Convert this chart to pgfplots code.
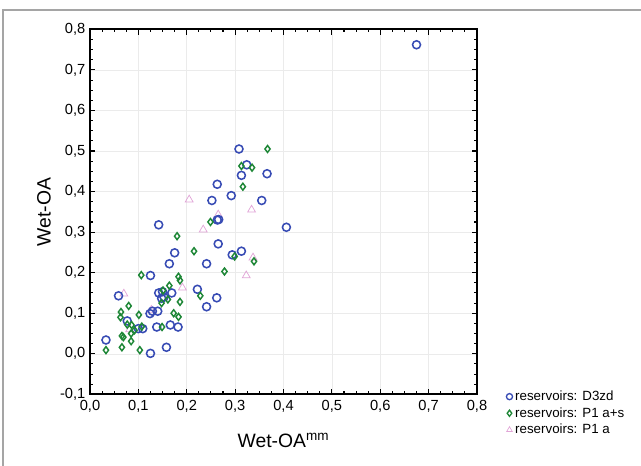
\documentclass[border=0pt]{standalone}
\usepackage{fontspec}
\setmainfont{Liberation Sans}
\usepackage{pgfplots}
\pgfplotsset{compat=1.18}

\definecolor{cblue}{RGB}{55,75,180}
\definecolor{cgreen}{RGB}{30,135,55}
\definecolor{cpink}{RGB}{225,165,215}
\definecolor{frame}{RGB}{165,165,165}

\begin{document}
\begin{tikzpicture}
\useasboundingbox (-67.5pt,-53.5pt) rectangle (413.25pt,295.75pt);
\draw[frame, line width=1.5pt] (-65.25pt,-53.5pt) -- (-65.25pt,288.25pt) -- (413.25pt,288.25pt);
\begin{axis}[
    at={(0,0)}, anchor=south west,
    scale only axis, width=290.25pt, height=273.75pt,
    xmin=0, xmax=0.8, ymin=-0.1, ymax=0.8,
    xtick={0,0.1,0.2,0.3,0.4,0.5,0.6,0.7,0.8},
    ytick={-0.1,0,0.1,0.2,0.3,0.4,0.5,0.6,0.7,0.8},
    xticklabels={{0,0},{0,1},{0,2},{0,3},{0,4},{0,5},{0,6},{0,7},{0,8}},
    yticklabels={{-0,1},{0,0},{0,1},{0,2},{0,3},{0,4},{0,5},{0,6},{0,7},{0,8}},
    minor tick num=3,
    tick align=inside,
    major tick length=4pt, minor tick length=2.2pt,
    tick style={black, line width=0.8pt},
    axis line style={line width=1.3pt},
    grid=major, grid style={black!8, line width=0.4pt},
    tick label style={font=\fontsize{11}{12}\selectfont},
    xticklabel style={yshift=-1pt},
    xlabel={Wet-OA\textsuperscript{mm}},
    ylabel={Wet-OA},
    label style={font=\fontsize{14.5}{16}\selectfont},
    xlabel style={yshift=-9pt},
    ylabel style={yshift=0pt},
    legend style={draw=none, fill=none, at={(1.065,0.025)}, anchor=north west,
        font=\fontsize{10}{11}\selectfont, row sep=-0.3pt,
        legend cell align=left},
    legend image code/.code={\draw[#1] plot coordinates {(0cm,0cm)};},
]
\addlegendimage{only marks, mark=o, mark size=2.3pt, draw=cblue, line width=1pt}
\addlegendentry{reservoirs: D3zd}
\addlegendimage{only marks, mark=diamond, mark size=2.3pt, draw=cgreen, line width=1pt}
\addlegendentry{reservoirs: P1 a+s}
\addlegendimage{only marks, mark=triangle, mark size=2.4pt, draw=cpink, line width=0.5pt}
\addlegendentry{reservoirs: P1 a}

% P1 a
\addplot[forget plot, only marks, mark=triangle, mark size=3.4pt, draw=cpink, line width=0.55pt] coordinates {
(0.070,0.148) (0.082,0.060) (0.127,0.108) (0.191,0.163) (0.205,0.380)
(0.234,0.306) (0.265,0.343) (0.334,0.355) (0.323,0.193) (0.337,0.237)
};
% D3zd
\addplot[forget plot, only marks, mark=o, mark size=3pt, draw=cblue, line width=1.15pt] coordinates {
(0.033,0.034) (0.059,0.143) (0.077,0.081) (0.100,0.062) (0.109,0.062)
(0.125,0.001) (0.125,0.193) (0.124,0.099) (0.129,0.105) (0.140,0.105)
(0.138,0.066) (0.142,0.318) (0.142,0.150) (0.148,0.137) (0.153,0.140)
(0.150,0.153) (0.158,0.016) (0.164,0.222) (0.169,0.150) (0.166,0.071)
(0.175,0.249) (0.182,0.066) (0.222,0.159) (0.241,0.222) (0.241,0.116)
(0.262,0.138) (0.265,0.271) (0.263,0.330) (0.266,0.331) (0.252,0.378)
(0.263,0.418) (0.292,0.390) (0.294,0.244) (0.313,0.253) (0.308,0.505)
(0.324,0.466) (0.313,0.440) (0.366,0.444) (0.355,0.378) (0.406,0.312)
(0.675,0.762)
};
% P1 a+s
\addplot[forget plot, only marks, mark=diamond, mark size=2.6pt, draw=cgreen, line width=1.1pt] coordinates {
(0.033,0.009) (0.064,0.103) (0.063,0.090) (0.066,0.044) (0.069,0.041)
(0.066,0.016) (0.080,0.118) (0.077,0.072) (0.086,0.071) (0.085,0.050)
(0.085,0.031) (0.092,0.058) (0.101,0.096) (0.106,0.194) (0.103,0.009)
(0.107,0.067) (0.148,0.125) (0.151,0.156) (0.149,0.066) (0.161,0.134)
(0.164,0.168) (0.173,0.100) (0.180,0.290) (0.183,0.190) (0.186,0.181)
(0.183,0.091) (0.186,0.128) (0.215,0.253) (0.228,0.143) (0.249,0.325)
(0.278,0.203) (0.299,0.240) (0.339,0.228) (0.316,0.412) (0.313,0.463)
(0.335,0.459) (0.367,0.505)
};
\end{axis}
\end{tikzpicture}
\end{document}
